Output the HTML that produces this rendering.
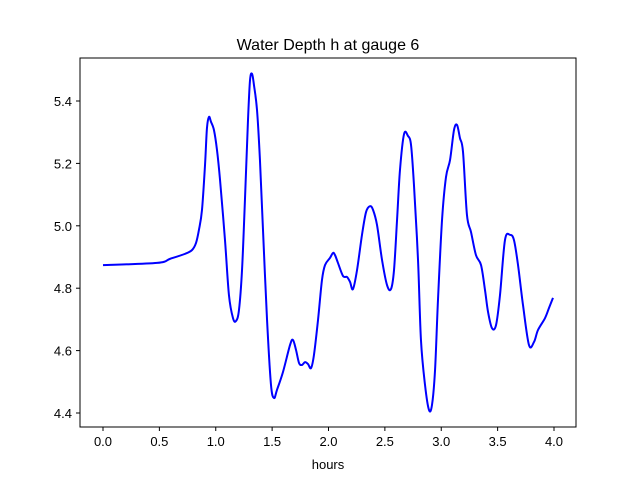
<!DOCTYPE html>
<html><head><meta charset="utf-8"><style>
body{margin:0;background:#fff;}
svg text{font-family:"Liberation Sans","DejaVu Sans",sans-serif;}
</style></head><body>
<svg id="chart" width="640" height="480" xmlns="http://www.w3.org/2000/svg">
<rect width="640" height="480" fill="#fff"/>
<text x="328" y="50" font-size="16" text-anchor="middle">Water Depth h at gauge 6</text>
<text x="328" y="469" font-size="13" text-anchor="middle">hours</text>
<g id="ticks"></g>
<path id="line" fill="none" stroke="#0000ff" stroke-width="2"/>
<rect x="80" y="58" width="496" height="369" fill="none" stroke="#000" stroke-width="1"/>
</svg>
<script>
const times=[0,0.479,0.594,0.727,0.789,0.825,0.851,0.878,0.905,0.922,0.940,0.958,0.984,1.011,1.038,1.082,1.117,1.153,1.180,1.206,1.233,1.259,1.286,1.304,1.322,1.339,1.366,1.392,1.419,1.455,1.490,1.517,1.543,1.596,1.659,1.685,1.712,1.739,1.765,1.792,1.818,1.845,1.871,1.907,1.942,1.969,2.013,2.040,2.058,2.084,2.129,2.164,2.191,2.217,2.253,2.297,2.333,2.368,2.395,2.430,2.475,2.519,2.554,2.581,2.608,2.634,2.670,2.705,2.732,2.758,2.794,2.820,2.856,2.891,2.918,2.945,2.971,3.007,3.042,3.078,3.113,3.140,3.166,3.193,3.228,3.264,3.308,3.353,3.388,3.415,3.450,3.486,3.521,3.565,3.610,3.645,3.681,3.725,3.778,3.823,3.858,3.920,3.956,3.991];
const depths=[4.874,4.881,4.894,4.910,4.922,4.945,4.987,5.051,5.196,5.313,5.349,5.333,5.307,5.243,5.147,4.954,4.778,4.704,4.695,4.730,4.858,5.083,5.339,5.467,5.487,5.451,5.371,5.211,4.987,4.698,4.490,4.448,4.474,4.531,4.618,4.634,4.602,4.560,4.554,4.563,4.557,4.544,4.586,4.698,4.826,4.874,4.897,4.913,4.906,4.881,4.839,4.836,4.820,4.797,4.858,4.971,5.044,5.063,5.051,5.003,4.890,4.810,4.797,4.858,5.019,5.179,5.294,5.288,5.259,5.131,4.890,4.634,4.490,4.410,4.426,4.538,4.762,5.019,5.156,5.211,5.307,5.323,5.281,5.237,5.035,4.980,4.906,4.874,4.794,4.724,4.672,4.682,4.778,4.954,4.971,4.954,4.874,4.746,4.618,4.628,4.666,4.704,4.737,4.769];
const xTicks=[0,0.5,1,1.5,2,2.5,3,3.5,4];
const xLabels=["0.0","0.5","1.0","1.5","2.0","2.5","3.0","3.5","4.0"];
const yTicks=[4.4,4.6,4.8,5.0,5.2,5.4];
const yLabels=["4.4","4.6","4.8","5.0","5.2","5.4"];
const X=t=>103+t*112.75;
const Y=v=>413-(v-4.4)*312;
const NS="http://www.w3.org/2000/svg";
const g=document.getElementById('ticks');
xTicks.forEach((t,i)=>{
 const l=document.createElementNS(NS,'line');
 l.setAttribute('x1',X(t));l.setAttribute('x2',X(t));l.setAttribute('y1',427);l.setAttribute('y2',431);l.setAttribute('stroke','#000');
 
 
 g.appendChild(l);
 const tx=document.createElementNS(NS,'text');
 tx.setAttribute('x',X(t));tx.setAttribute('y',446);tx.setAttribute('font-size','13');tx.setAttribute('text-anchor','middle');
 tx.textContent=xLabels[i];
 
 
 g.appendChild(tx);
});
yTicks.forEach((v,i)=>{
 const l=document.createElementNS(NS,'line');
 l.setAttribute('x1',76);l.setAttribute('x2',80);l.setAttribute('y1',Y(v));l.setAttribute('y2',Y(v));l.setAttribute('stroke','#000');
 
 
 g.appendChild(l);
 const tx=document.createElementNS(NS,'text');
 tx.setAttribute('x',72);tx.setAttribute('y',Y(v)+5);tx.setAttribute('font-size','13');tx.setAttribute('text-anchor','end');
 tx.textContent=yLabels[i];
 
 
 g.appendChild(tx);
});
const pts=times.map((t,i)=>[X(t),Y(depths[i])]);
let d='M'+pts[0][0]+','+pts[0][1];
for(let i=0;i<pts.length-1;i++){
 const p0=pts[Math.max(0,i-1)],p1=pts[i],p2=pts[i+1],p3=pts[Math.min(pts.length-1,i+2)];
 const c1=[p1[0]+(p2[0]-p0[0])/6,p1[1]+(p2[1]-p0[1])/6];
 const c2=[p2[0]-(p3[0]-p1[0])/6,p2[1]-(p3[1]-p1[1])/6];
 d+=' C'+c1[0]+','+c1[1]+' '+c2[0]+','+c2[1]+' '+p2[0]+','+p2[1];
}
document.getElementById('line').setAttribute('d',d);
</script>
</body></html>
